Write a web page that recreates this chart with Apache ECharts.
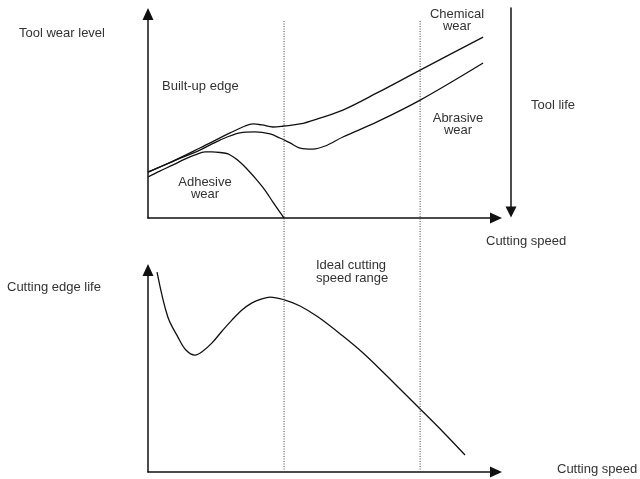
<!DOCTYPE html>
<html>
<head>
<meta charset="utf-8">
<script src="https://cdn.jsdelivr.net/npm/echarts@6/dist/echarts.min.js"></script>
<style>
  html, body { margin: 0; padding: 0; background: #fff; }
  #chart { width: 640px; height: 479px; }
</style>
</head>
<body>
<div id="chart"></div>
<script>
// schematic values, cutting speed 0..10, wear / life 0..10
var chemSpeed = [0, 0.72, 1.49, 2.36, 2.79, 3.02, 3.28, 3.59, 3.91, 4.37, 4.94, 5.60, 6.58, 7.82, 9.63];
var chemWear  = [2.25, 2.79, 3.43, 4.17, 4.51, 4.61, 4.56, 4.46, 4.51, 4.61, 4.90, 5.29, 6.13, 7.25, 8.87];

var abrSpeed = [0, 0.72, 1.49, 2.07, 2.64, 3.07, 3.51, 3.79, 4.08, 4.37, 4.74, 5.09, 5.60, 6.58, 7.82, 9.63];
var abrWear  = [2.25, 2.78, 3.33, 3.82, 4.17, 4.22, 4.12, 3.92, 3.68, 3.43, 3.38, 3.53, 3.97, 4.71, 5.78, 7.60];

var adhSpeed = [0, 0.34, 0.72, 1.06, 1.35, 1.64, 1.84, 2.07, 2.30, 2.64, 2.87, 3.13, 3.36, 3.59, 3.91];
var adhWear  = [2.01, 2.30, 2.60, 2.89, 3.09, 3.24, 3.24, 3.21, 3.14, 2.75, 2.35, 1.86, 1.37, 0.78, 0];

var lifeSpeed = [0.26, 0.57, 0.86, 1.09, 1.35, 1.58, 1.84, 2.13, 2.41, 2.70, 2.99, 3.25, 3.51,
                 3.94, 4.37, 4.89, 5.60, 6.18, 6.75, 7.30, 7.82, 8.48, 9.11];
var edgeLife  = [9.90, 7.67, 6.68, 6.04, 5.79, 5.99, 6.39, 6.98, 7.52, 8.02, 8.37, 8.56, 8.66,
                 8.51, 8.22, 7.67, 6.73, 5.89, 4.95, 4.01, 3.12, 1.98, 0.84];

// ideal cutting speed range limits
var rangeLimits = [3.91, 7.82];

function pairs(xs, ys) {
    var out = [];
    for (let i = 0; i < xs.length; i++) {
        out.push([xs[i], ys[i]]);
    }
    return out;
}

var ink = '#111';
var textColor = '#333';
var font = '13px "Liberation Sans", Arial, Helvetica, sans-serif';

function arrowAxis(extra) {
    var ax = {
        type: 'value',
        min: 0,
        max: 10,
        axisLine: {
            show: true,
            symbol: ['none', 'triangle'],
            symbolSize: [11, 12],
            lineStyle: { color: ink, width: 1.5 }
        },
        axisTick: { show: false },
        axisLabel: { show: false },
        splitLine: { show: false }
    };
    for (var k in extra) ax[k] = extra[k];
    return ax;
}

function hiddenAxis(extra) {
    var ax = { type: 'value', min: 0, max: 10, show: false };
    for (var k in extra) ax[k] = extra[k];
    return ax;
}

var curveStyle = { color: ink, width: 1.3 };

function curve(xs, ys, idx) {
    return {
        type: 'line', xAxisIndex: idx, yAxisIndex: idx,
        data: pairs(xs, ys),
        smooth: 0.35, showSymbol: false, lineStyle: curveStyle
    };
}

var series = [
    curve(chemSpeed, chemWear, 0),
    curve(abrSpeed, abrWear, 0),
    curve(adhSpeed, adhWear, 0),
    curve(lifeSpeed, edgeLife, 1)
];

// dotted boundaries of the ideal range, across both panels
for (let i = 0; i < rangeLimits.length; i++) {
    series.push({
        type: 'line', xAxisIndex: 2, yAxisIndex: 2,
        data: [[rangeLimits[i], 0], [rangeLimits[i], 10]],
        showSymbol: false,
        lineStyle: { color: '#444', width: 1, type: [1, 1.5] }
    });
}

function label(x, y, text, extra) {
    var style = { text: text, font: font, fill: textColor, verticalAlign: 'middle', lineHeight: 13 };
    for (var k in extra) style[k] = extra[k];
    return { type: 'text', x: x, y: y, style: style };
}

var chart = echarts.init(document.getElementById('chart'), null, { renderer: 'canvas' });
var option = {
    animation: false,
    backgroundColor: '#fff',
    grid: [
        { left: 148, right: 144, top: 14, bottom: 261 },   // tool wear
        { left: 148, right: 144, top: 270, bottom: 7 },    // cutting edge life
        { left: 148, right: 144, top: 20, bottom: 7 },     // dotted range lines
        { left: 511, width: 1, top: 8, bottom: 267 }       // tool life arrow
    ],
    xAxis: [
        arrowAxis({ gridIndex: 0 }),
        arrowAxis({ gridIndex: 1 }),
        hiddenAxis({ gridIndex: 2 }),
        hiddenAxis({ gridIndex: 3 })
    ],
    yAxis: [
        arrowAxis({ gridIndex: 0 }),
        arrowAxis({ gridIndex: 1 }),
        hiddenAxis({ gridIndex: 2 }),
        {
            gridIndex: 3, type: 'value', min: 0, max: 10,
            axisLine: {
                show: true,
                symbol: ['triangle', 'none'],
                symbolSize: [11, 11],
                lineStyle: { color: ink, width: 1.5 }
            },
            axisTick: { show: false },
            axisLabel: { show: false },
            splitLine: { show: false }
        }
    ],
    graphic: [
        label(19, 33, 'Tool wear level'),
        label(162, 86, 'Built-up edge'),
        label(205, 188, 'Adhesive\nwear', { align: 'center', lineHeight: 12 }),
        label(457, 20, 'Chemical\nwear', { align: 'center', lineHeight: 12 }),
        label(458, 124, 'Abrasive\nwear', { align: 'center', lineHeight: 12 }),
        label(531, 105, 'Tool life'),
        label(486, 241, 'Cutting speed'),
        label(7, 287, 'Cutting edge life'),
        label(316, 272, 'Ideal cutting\nspeed range'),
        label(557, 469, 'Cutting speed')
    ],
    series: series
};
chart.setOption(option);
</script>
</body>
</html>
